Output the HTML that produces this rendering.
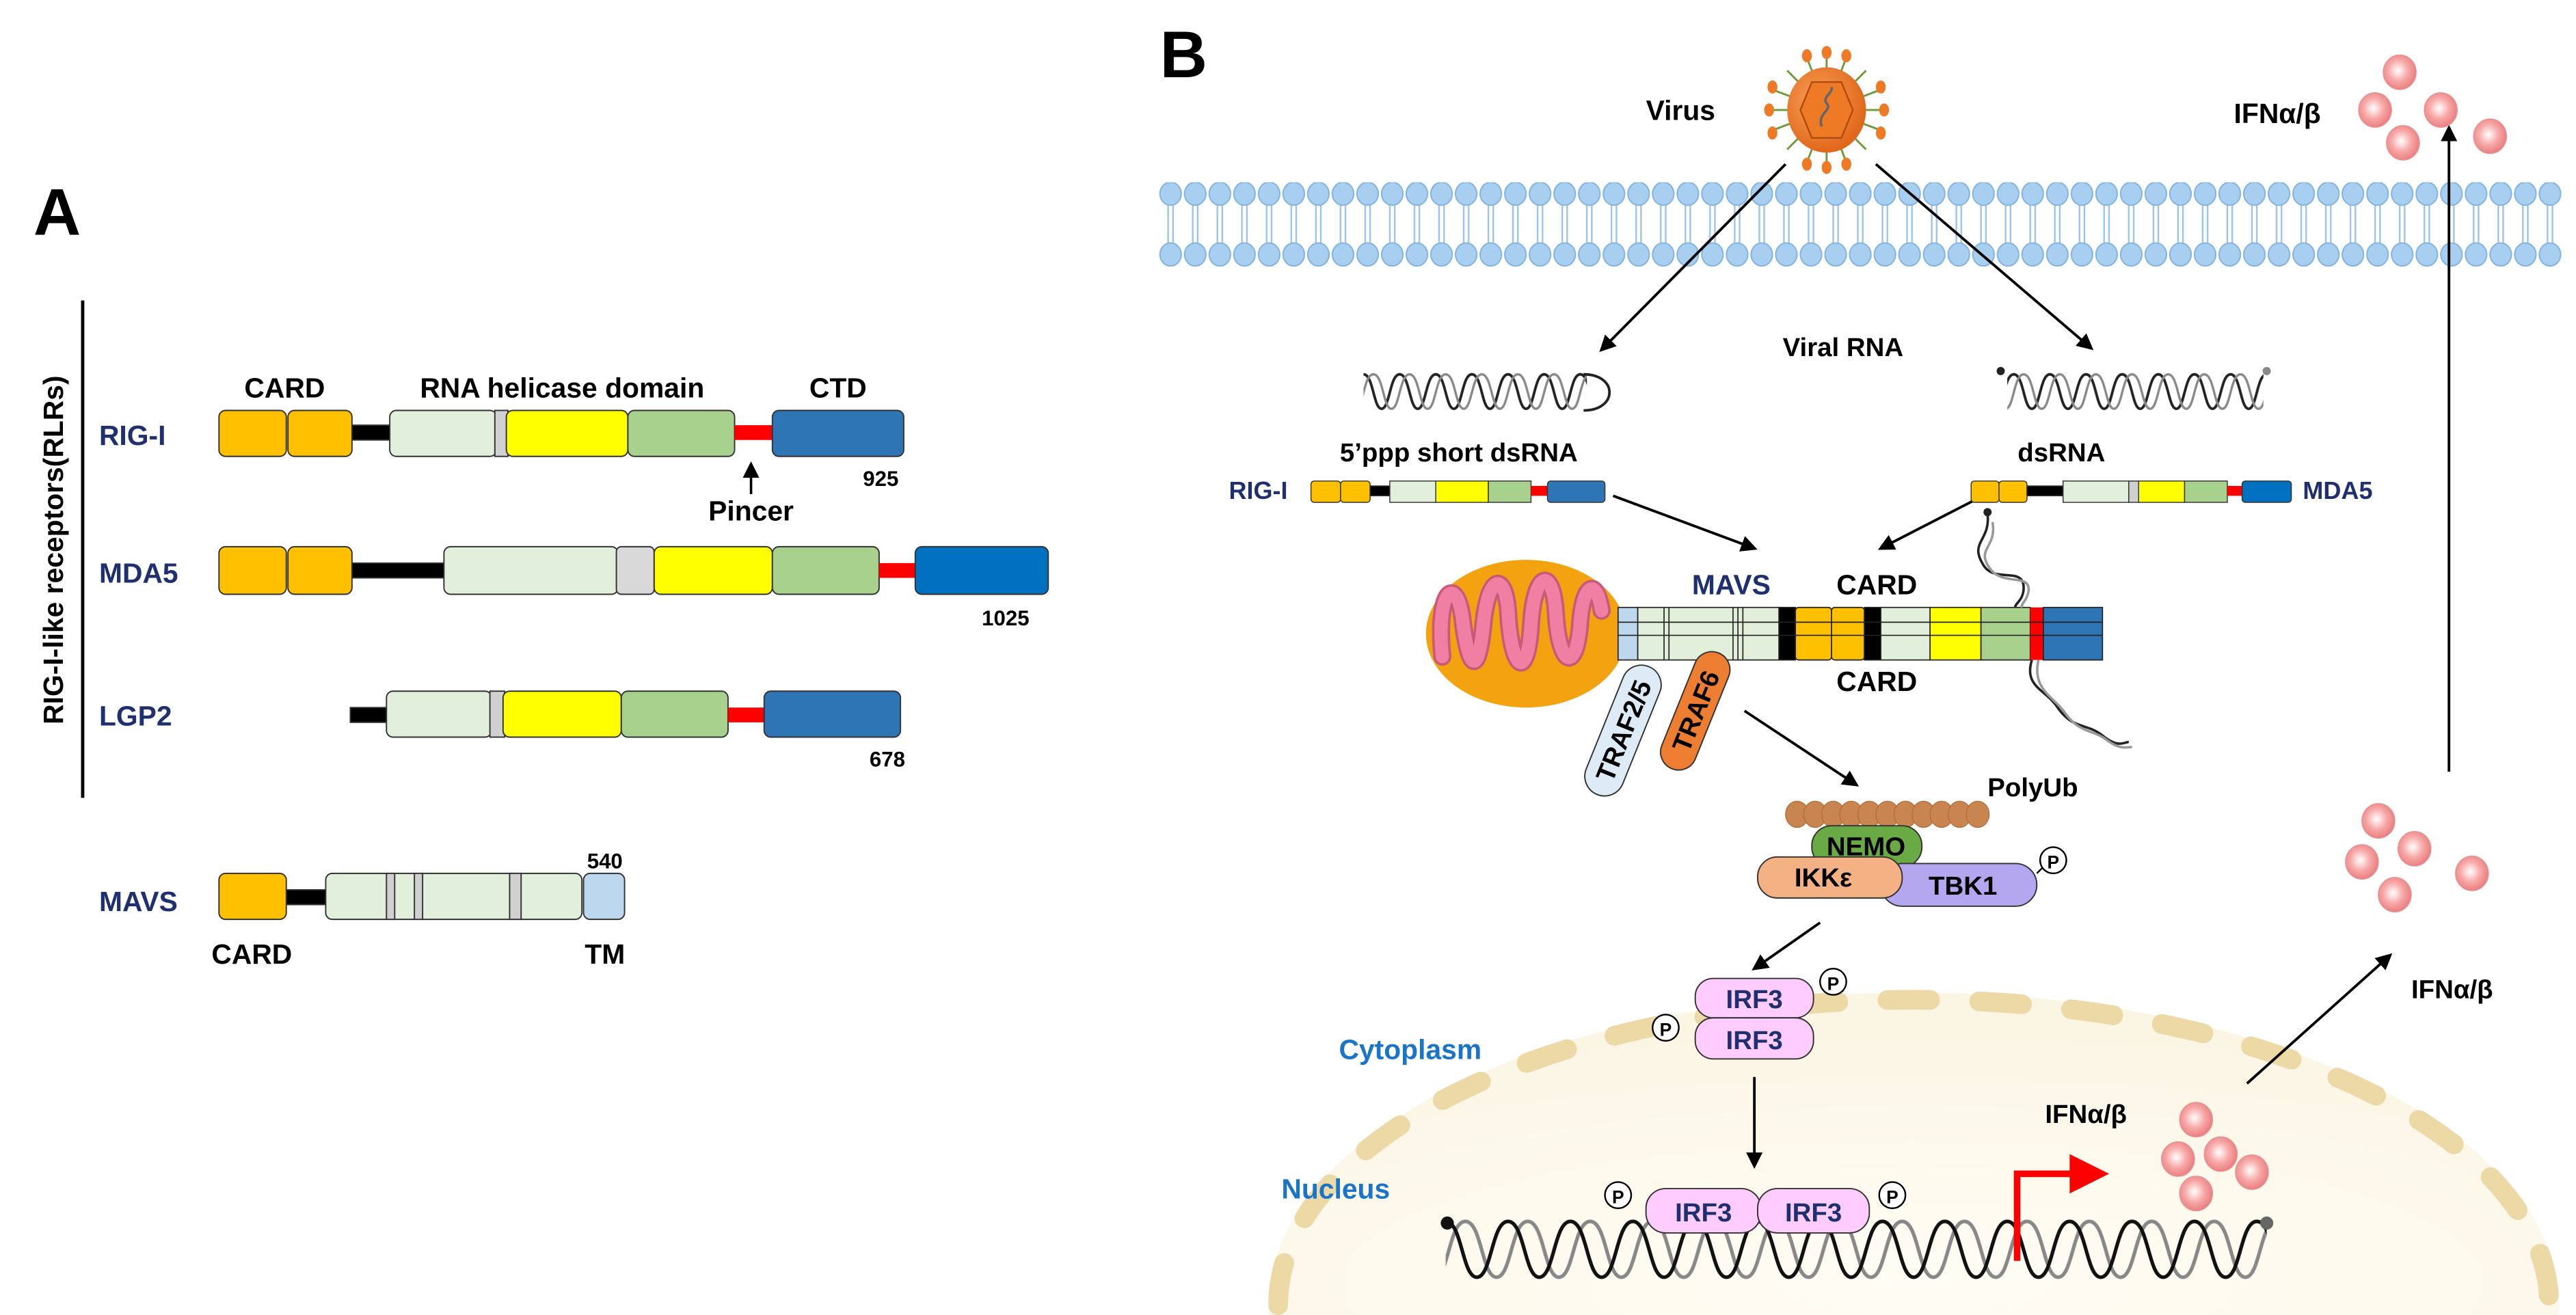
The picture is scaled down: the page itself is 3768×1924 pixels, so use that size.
<!DOCTYPE html>
<html><head><meta charset="utf-8"><style>
html,body{margin:0;padding:0;background:#fff;}
svg{display:block;}
text{font-family:"Liberation Sans",Arial,sans-serif;font-weight:bold;}
</style></head><body>
<svg width="3768" height="1924" viewBox="0 0 1568 801" xmlns="http://www.w3.org/2000/svg">
<defs>
<marker id="ar" markerWidth="10" markerHeight="10" refX="8" refY="5" orient="auto" markerUnits="userSpaceOnUse">
<path d="M0,0 L10,5 L0,10 Z" fill="#000"/></marker>
<pattern id="mem" x="705" y="111" width="15" height="52" patternUnits="userSpaceOnUse">
<line x1="6" y1="12" x2="6" y2="40" stroke="#9DC3E6" stroke-width="1"/>
<line x1="9" y1="12" x2="9" y2="40" stroke="#9DC3E6" stroke-width="1"/>
<ellipse cx="7.5" cy="7" rx="6.5" ry="7" fill="#A9CFF0" stroke="#7FB2DE" stroke-width="0.8"/>
<ellipse cx="7.5" cy="44" rx="6.5" ry="7" fill="#A9CFF0" stroke="#7FB2DE" stroke-width="0.8"/>
</pattern>
<pattern id="dna" x="880" y="742" width="38" height="40" patternUnits="userSpaceOnUse">
<path d="M12,2 C22,2 22,36 31,36 C40,36 40,2 50,2 M-26,2 C-16,2 -16,36 -7,36 C2,36 2,2 12,2" fill="none" stroke="#888" stroke-width="2.2"/>
<path d="M0,2 C10,2 10,36 19,36 C28,36 28,2 38,2" fill="none" stroke="#111" stroke-width="2.2"/>
</pattern>
<pattern id="rna" x="830" y="226" width="22" height="26" patternUnits="userSpaceOnUse">
<path d="M0,2 C6,2 6,23 11,23 C16,23 16,2 22,2" fill="none" stroke="#222" stroke-width="1.6"/>
<path d="M6,2 C12,2 12,23 17,23 C22,23 22,2 28,2 M-16,2 C-10,2 -10,23 -5,23 C0,23 0,2 6,2" fill="none" stroke="#888" stroke-width="1.4"/>
</pattern>
<radialGradient id="ball" cx="0.45" cy="0.45" r="0.6">
<stop offset="0" stop-color="#fff"/><stop offset="0.5" stop-color="#F7A9A8"/><stop offset="1" stop-color="#E8777A"/></radialGradient>
<radialGradient id="nuc" cx="0.5" cy="0.9" r="0.8">
<stop offset="0" stop-color="#FFFDF5"/><stop offset="1" stop-color="#FBF5E4"/></radialGradient>
<radialGradient id="vir" cx="0.4" cy="0.4" r="0.6">
<stop offset="0" stop-color="#F9A45A"/><stop offset="1" stop-color="#E0671B"/></radialGradient>
<symbol id="b" overflow="visible"><ellipse cx="0" cy="0" rx="10" ry="10.5" fill="url(#ball)" stroke="#E89090" stroke-width="0.6"/></symbol>
</defs>

<!-- ============ PANEL A ============ -->
<text x="20" y="143" font-size="40">A</text>
<line x1="50" y1="183" x2="50" y2="486" stroke="#000" stroke-width="2"/>
<text transform="translate(38,335) rotate(-90)" font-size="17" text-anchor="middle">RIG-I-like receptors(RLRs)</text>

<g font-size="17" fill="#1F3070">
<text x="60" y="271">RIG-I</text>
<text x="60" y="355">MDA5</text>
<text x="60" y="442">LGP2</text>
<text x="60" y="555">MAVS</text>
</g>
<g font-size="17" text-anchor="middle">
<text x="173" y="242">CARD</text>
<text x="342" y="242">RNA  helicase domain</text>
<text x="510" y="242">CTD</text>
<text x="457" y="317">Pincer</text>
</g>
<g font-size="13" text-anchor="middle">
<text x="536" y="296">925</text>
<text x="612" y="381">1025</text>
<text x="540" y="467">678</text>
<text x="368" y="529">540</text>
</g>
<g font-size="17" text-anchor="middle">
<text x="153" y="587">CARD</text>
<text x="368" y="587">TM</text>
</g>
<line x1="457" y1="301" x2="457" y2="283" stroke="#000" stroke-width="1.5" marker-end="url(#ar)"/>

<g stroke="#333" stroke-width="0.8">
<rect x="213" y="259" width="24" height="9" fill="#000"/>
<rect x="133" y="250" width="41" height="28" rx="4" fill="#FFC000"/>
<rect x="175" y="250" width="39" height="28" rx="4" fill="#FFC000"/>
<rect x="237" y="250" width="65" height="28" rx="4" fill="#E2EFDA"/>
<rect x="301" y="250" width="8" height="28" fill="#D0D0D0"/>
<rect x="308" y="250" width="74" height="28" rx="4" fill="#FFFF00"/>
<rect x="382" y="250" width="65" height="28" rx="4" fill="#A9D18E"/>
<rect x="447" y="259" width="23" height="9" fill="#FF0000" stroke="none"/>
<rect x="470" y="250" width="80" height="28" rx="4" fill="#2E75B6"/>
<rect x="213" y="343" width="58" height="9" fill="#000"/>
<rect x="133" y="333" width="41" height="29" rx="4" fill="#FFC000"/>
<rect x="175" y="333" width="39" height="29" rx="4" fill="#FFC000"/>
<rect x="270" y="333" width="106" height="29" rx="4" fill="#E2EFDA"/>
<rect x="375" y="333" width="23" height="29" rx="3" fill="#D9D9D9"/>
<rect x="398" y="333" width="72" height="29" rx="4" fill="#FFFF00"/>
<rect x="470" y="333" width="65" height="29" rx="4" fill="#A9D18E"/>
<rect x="535" y="343" width="23" height="9" fill="#FF0000" stroke="none"/>
<rect x="557" y="333" width="81" height="29" rx="4" fill="#0070C0"/>
<rect x="213" y="431" width="23" height="9" fill="#000"/>
<rect x="235" y="421" width="64" height="28" rx="4" fill="#E2EFDA"/>
<rect x="298" y="421" width="9" height="28" fill="#D0D0D0"/>
<rect x="306" y="421" width="72" height="28" rx="4" fill="#FFFF00"/>
<rect x="378" y="421" width="65" height="28" rx="4" fill="#A9D18E"/>
<rect x="443" y="431" width="23" height="9" fill="#FF0000" stroke="none"/>
<rect x="465" y="421" width="83" height="28" rx="4" fill="#2E75B6"/>
<rect x="173" y="542" width="26" height="9" fill="#000"/>
<rect x="133" y="532" width="41" height="28" rx="4" fill="#FFC000"/>
<rect x="198" y="532" width="156" height="28" rx="4" fill="#E2EFDA"/>
<rect x="235" y="532" width="5" height="28" fill="#D0D0D0"/>
<rect x="252" y="532" width="5" height="28" fill="#D0D0D0"/>
<rect x="310" y="532" width="7" height="28" fill="#D0D0D0"/>
<rect x="355" y="532" width="25" height="28" rx="4" fill="#BDD7EE"/>
</g>

<!-- ============ PANEL B ============ -->
<text x="706" y="47" font-size="40">B</text>

<!-- nucleus -->
<path d="M772,801 L772,795 A392,190 0 0 1 1558,795 L1558,801 Z" fill="url(#nuc)"/>
<path d="M778,795 A387,186 0 0 1 1552,795" fill="none" stroke="#EDD9A6" stroke-width="12" stroke-linecap="round" stroke-dasharray="26 30"/>

<!-- membrane -->
<rect x="705" y="111" width="855" height="52" fill="url(#mem)"/>

<!-- virus -->
<g transform="translate(1112,67)">
<g stroke="#6E9A3A" stroke-width="1.2">
<line x1="0" y1="-34" x2="0" y2="34"/><line x1="-34" y1="0" x2="34" y2="0"/>
<line x1="-24" y1="-24" x2="24" y2="24"/><line x1="-24" y1="24" x2="24" y2="-24"/>
<line x1="-12" y1="-32" x2="12" y2="32"/><line x1="12" y1="-32" x2="-12" y2="32"/>
<line x1="-32" y1="-12" x2="32" y2="12"/><line x1="-32" y1="12" x2="32" y2="-12"/>
</g>
<g fill="#EE7A25"><ellipse cx="0" cy="-35" rx="3" ry="4"/><ellipse cx="0" cy="35" rx="3" ry="4"/><ellipse cx="-35" cy="0" rx="3" ry="4"/><ellipse cx="35" cy="0" rx="3" ry="4"/>
<ellipse cx="-12" cy="-33" rx="3" ry="4"/><ellipse cx="12" cy="33" rx="3" ry="4"/><ellipse cx="12" cy="-33" rx="3" ry="4"/><ellipse cx="-12" cy="33" rx="3" ry="4"/>
<ellipse cx="-33" cy="-14" rx="3" ry="4"/><ellipse cx="33" cy="14" rx="3" ry="4"/><ellipse cx="-33" cy="14" rx="3" ry="4"/><ellipse cx="33" cy="-14" rx="3" ry="4"/></g>
<ellipse rx="24" ry="26" fill="url(#vir)"/>
<polygon points="-9,-17 9,-17 16,0 9,17 -9,17 -16,0" fill="#EE7A25" stroke="#B04A10" stroke-width="1"/>
<path d="M-3,10 C-6,2 4,0 0,-4 C-3,-8 4,-10 3,-14" fill="none" stroke="#666" stroke-width="1.5"/>
</g>
<text x="1002" y="73" font-size="17">Virus</text>
<text x="1360" y="75" font-size="17">IFNα/β</text>

<!-- arrows -->
<g stroke="#000" stroke-width="1.6" fill="none" marker-end="url(#ar)">
<line x1="1087" y1="100" x2="975" y2="213"/>
<line x1="1142" y1="100" x2="1273" y2="212"/>
<line x1="982" y1="302" x2="1068" y2="334"/>
<line x1="1215" y1="298" x2="1145" y2="334"/>
<line x1="1062" y1="433" x2="1130" y2="478"/>
<line x1="1108" y1="562" x2="1068" y2="590"/>
<line x1="1068" y1="656" x2="1068" y2="710"/>
<line x1="1368" y1="660" x2="1455" y2="582"/>
<line x1="1491" y1="470" x2="1491" y2="78"/>
</g>

<!-- RNAs -->
<text x="1122" y="217" font-size="16" text-anchor="middle">Viral RNA</text>
<rect x="830" y="224" width="136" height="28" fill="url(#rna)"/>
<path d="M964,228 C985,228 985,250 964,250" fill="none" stroke="#222" stroke-width="1.6"/>
<rect x="1222" y="224" width="156" height="28" fill="url(#rna)"/>
<circle cx="1218" cy="226" r="2.5" fill="#222"/><circle cx="1380" cy="226" r="2.5" fill="#888"/>
<text x="888" y="281" font-size="16" text-anchor="middle">5’ppp short dsRNA</text>
<text x="1255" y="281" font-size="16" text-anchor="middle">dsRNA</text>

<text x="748" y="304" font-size="15" fill="#1F3070">RIG-I</text>
<text x="1402" y="304" font-size="15" fill="#1F3070">MDA5</text>
<g stroke="#333" stroke-width="0.6">
<rect x="798" y="293" width="18" height="13" rx="2" fill="#FFC000"/><rect x="816" y="293" width="18" height="13" rx="2" fill="#FFC000"/>
<rect x="834" y="296" width="12" height="6" fill="#000"/>
<rect x="846" y="293" width="28" height="13" fill="#E2EFDA"/><rect x="874" y="293" width="32" height="13" fill="#FFFF00"/>
<rect x="906" y="293" width="26" height="13" fill="#A9D18E"/><rect x="932" y="296" width="10" height="6" fill="#F00" stroke="none"/>
<rect x="942" y="293" width="35" height="13" rx="2" fill="#2E75B6"/>

<rect x="1200" y="293" width="17" height="13" rx="2" fill="#FFC000"/><rect x="1217" y="293" width="17" height="13" rx="2" fill="#FFC000"/>
<rect x="1234" y="296" width="22" height="6" fill="#000"/>
<rect x="1256" y="293" width="40" height="13" fill="#E2EFDA"/><rect x="1296" y="293" width="6" height="13" fill="#D0D0D0"/>
<rect x="1302" y="293" width="28" height="13" fill="#FFFF00"/><rect x="1330" y="293" width="26" height="13" fill="#A9D18E"/>
<rect x="1356" y="296" width="9" height="6" fill="#F00" stroke="none"/><rect x="1365" y="293" width="30" height="13" rx="2" fill="#0070C0"/>
</g>

<!-- mitochondria -->
<ellipse cx="929" cy="386" rx="61" ry="45" fill="#F3A30F"/>
<path d="M878,400 C874,360 886,350 890,375 C894,410 900,412 903,380 C906,350 916,348 918,372 C920,410 930,415 932,380 C934,348 945,345 947,372 C949,408 960,410 962,378 C964,355 972,352 975,372" fill="none" stroke="#C85A78" stroke-width="11" stroke-linecap="round"/>
<path d="M878,400 C874,360 886,350 890,375 C894,410 900,412 903,380 C906,350 916,348 918,372 C920,410 930,415 932,380 C934,348 945,345 947,372 C949,408 960,410 962,378 C964,355 972,352 975,372" fill="none" stroke="#F07FA3" stroke-width="8" stroke-linecap="round"/>

<!-- MAVS complex -->
<text x="1030" y="362" font-size="17" fill="#1F3070">MAVS</text>
<text x="1118" y="362" font-size="17">CARD</text>
<text x="1118" y="421" font-size="17">CARD</text>
<g stroke="#222" stroke-width="0.7">
<rect x="985" y="370" width="12" height="32" fill="#BDD7EE"/>
<rect x="997" y="370" width="86" height="32" fill="#E2EFDA"/>
<line x1="1013" y1="370" x2="1013" y2="402"/><line x1="1016" y1="370" x2="1016" y2="402"/>
<line x1="1055" y1="370" x2="1055" y2="402"/><line x1="1058" y1="370" x2="1058" y2="402"/><line x1="1061" y1="370" x2="1061" y2="402"/>
<rect x="1083" y="370" width="10" height="32" fill="#000"/>
<rect x="1093" y="370" width="22" height="32" rx="2" fill="#FFC000"/><rect x="1115" y="370" width="20" height="32" rx="2" fill="#FFC000"/>
<rect x="1135" y="370" width="10" height="32" fill="#000"/>
<rect x="1145" y="370" width="30" height="32" fill="#E2EFDA"/>
<rect x="1175" y="370" width="31" height="32" fill="#FFFF00"/>
<rect x="1206" y="370" width="30" height="32" fill="#A9D18E"/>
<rect x="1236" y="370" width="8" height="32" fill="#F00" stroke="none"/>
<rect x="1244" y="370" width="36" height="32" fill="#2E75B6"/>
<line x1="985" y1="379" x2="1280" y2="379"/><line x1="985" y1="387" x2="1280" y2="387"/>
</g>
<path d="M1210,313 C1212,330 1198,330 1208,345 C1215,355 1232,345 1232,358 C1232,366 1226,368 1227,370" fill="none" stroke="#222" stroke-width="1.5"/>
<path d="M1213,318 C1216,334 1202,334 1212,347 C1220,357 1236,349 1235,360 C1234,366 1230,368 1231,370" fill="none" stroke="#999" stroke-width="1.5"/>
<circle cx="1210" cy="312" r="2.5" fill="#222"/>
<path d="M1237,402 C1232,418 1245,420 1252,430 C1262,445 1270,440 1280,448 C1290,456 1293,452 1296,452" fill="none" stroke="#222" stroke-width="1.5"/>
<path d="M1241,402 C1237,420 1250,424 1257,434 C1266,447 1274,444 1283,451 C1291,457 1295,455 1298,455" fill="none" stroke="#999" stroke-width="1.5"/>

<!-- TRAFs -->
<g transform="translate(988,445) rotate(-68)">
<rect x="-42" y="-12" width="84" height="24" rx="12" fill="#DDEBF7" stroke="#333" stroke-width="0.8"/>
<text x="0" y="6" font-size="16" text-anchor="middle">TRAF2/5</text></g>
<g transform="translate(1032,433) rotate(-68)">
<rect x="-38" y="-11" width="76" height="22" rx="11" fill="#ED7D31" stroke="#333" stroke-width="0.8"/>
<text x="0" y="6" font-size="16" text-anchor="middle">TRAF6</text></g>

<!-- PolyUb / NEMO / IKK / TBK1 -->
<text x="1210" y="485" font-size="16">PolyUb</text>
<g fill="#C98550" stroke="#B06A38" stroke-width="0.5">
<ellipse cx="1094" cy="496" rx="7" ry="8"/><ellipse cx="1105" cy="496" rx="7" ry="8"/><ellipse cx="1116" cy="496" rx="7" ry="8"/>
<ellipse cx="1127" cy="496" rx="7" ry="8"/><ellipse cx="1138" cy="496" rx="7" ry="8"/><ellipse cx="1149" cy="496" rx="7" ry="8"/>
<ellipse cx="1160" cy="496" rx="7" ry="8"/><ellipse cx="1171" cy="496" rx="7" ry="8"/><ellipse cx="1182" cy="496" rx="7" ry="8"/>
<ellipse cx="1193" cy="496" rx="7" ry="8"/><ellipse cx="1204" cy="496" rx="7" ry="8"/></g>
<rect x="1103" y="503" width="67" height="25" rx="12" fill="#6AAA45" stroke="#333" stroke-width="0.8"/>
<text x="1136" y="521" font-size="16" text-anchor="middle">NEMO</text>
<rect x="1145" y="526" width="95" height="26" rx="13" fill="#B4A7F0" stroke="#333" stroke-width="0.8"/>
<text x="1195" y="545" font-size="16" text-anchor="middle">TBK1</text>
<rect x="1070" y="522" width="88" height="25" rx="12" fill="#F4B183" stroke="#333" stroke-width="0.8"/>
<text x="1110" y="540" font-size="16" text-anchor="middle">IKKε</text>
<line x1="1240" y1="532" x2="1244" y2="528" stroke="#000"/>
<circle cx="1250" cy="524" r="8" fill="#fff" stroke="#000"/><text x="1250" y="529" font-size="11" text-anchor="middle">P</text>

<!-- IRF3 dimer cytoplasm -->
<g stroke="#333" stroke-width="0.8" fill="#FFCCFF">
<rect x="1032" y="596" width="72" height="24" rx="11"/>
<rect x="1032" y="620" width="72" height="25" rx="11"/></g>
<g font-size="16" fill="#1F3070" text-anchor="middle"><text x="1068" y="614">IRF3</text><text x="1068" y="639">IRF3</text></g>
<circle cx="1116" cy="598" r="8" fill="#fff" stroke="#000"/><text x="1116" y="603" font-size="11" text-anchor="middle">P</text>
<circle cx="1014" cy="626" r="8" fill="#fff" stroke="#000"/><text x="1014" y="631" font-size="11" text-anchor="middle">P</text>

<text x="815" y="645" font-size="17" fill="#1A75C8">Cytoplasm</text>
<text x="780" y="730" font-size="17" fill="#1A75C8">Nucleus</text>

<!-- DNA -->
<rect x="880" y="742" width="500" height="40" fill="url(#dna)"/>
<circle cx="881" cy="745" r="4" fill="#111"/><circle cx="1380" cy="745" r="4" fill="#666"/>

<!-- IRF3 on DNA -->
<g stroke="#333" stroke-width="0.8" fill="#FFCCFF">
<rect x="1002" y="724" width="70" height="27" rx="12"/>
<rect x="1070" y="724" width="68" height="27" rx="12"/></g>
<g font-size="16" fill="#1F3070" text-anchor="middle"><text x="1037" y="744">IRF3</text><text x="1104" y="744">IRF3</text></g>
<circle cx="985" cy="728" r="8" fill="#fff" stroke="#000"/><text x="985" y="733" font-size="11" text-anchor="middle">P</text>
<circle cx="1152" cy="728" r="8" fill="#fff" stroke="#000"/><text x="1152" y="733" font-size="11" text-anchor="middle">P</text>

<!-- red transcription arrow -->
<path d="M1228,768 L1228,715 L1262,715" fill="none" stroke="#FF0000" stroke-width="4"/>
<polygon points="1260,703 1284,715 1260,727" fill="#FF0000"/>

<!-- IFN balls -->
<text x="1245" y="684" font-size="16">IFNα/β</text>
<use href="#b" x="1337" y="682"/><use href="#b" x="1326" y="706"/><use href="#b" x="1352" y="703"/>
<use href="#b" x="1337" y="727"/><use href="#b" x="1371" y="714"/>

<text x="1468" y="608" font-size="16">IFNα/β</text>
<use href="#b" x="1448" y="500"/><use href="#b" x="1470" y="517"/><use href="#b" x="1438" y="525"/>
<use href="#b" x="1505" y="532"/><use href="#b" x="1458" y="545"/>

<use href="#b" x="1461" y="44"/><use href="#b" x="1446" y="67"/><use href="#b" x="1486" y="67"/>
<use href="#b" x="1463" y="87"/><use href="#b" x="1516" y="83"/>
</svg>
</body></html>
